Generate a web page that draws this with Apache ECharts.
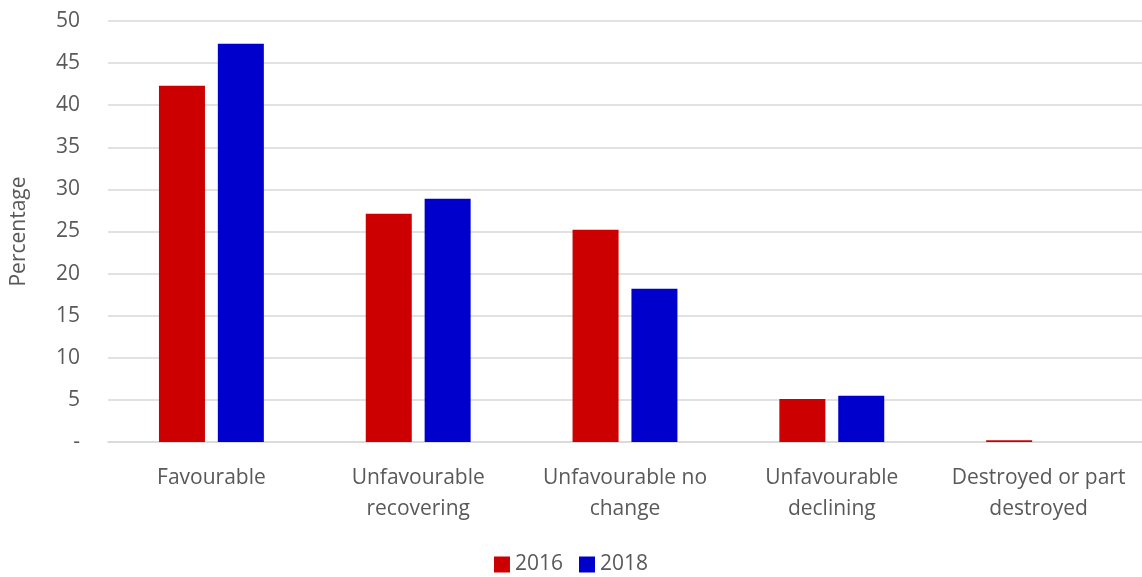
<!DOCTYPE html>
<html><head><meta charset="utf-8">
<script src="https://cdn.jsdelivr.net/npm/echarts@6/dist/echarts.min.js"></script>
<style>html,body{margin:0;padding:0;background:#fff}#c{width:1142px;height:577px}</style>
</head><body><div id="c"></div>
<script>
var categories = ['Favourable', 'Unfavourable\nrecovering', 'Unfavourable no\nchange', 'Unfavourable\ndeclining', 'Destroyed or part\ndestroyed'];
var series2016 = [42.3, 27.1, 25.2, 5.1, 0.2];
var series2018 = [47.3, 28.9, 18.2, 5.5, 0];
var seriesNames = ['2016', '2018'];
var yTicks = {min: 0, max: 50, interval: 5};

var chart = echarts.init(document.getElementById('c'));
var font = 'Open Sans';
chart.setOption({
  animation: false,
  grid: {left: 108, right: -4, top: 21, bottom: 135, containLabel: false},
  legend: {
    bottom: -3, left: 'center', itemWidth: 16, itemHeight: 16, itemGap: 16,
    icon: 'rect',
    textStyle: {fontFamily: font, fontSize: 21, color: '#595959'},
    data: seriesNames
  },
  xAxis: {
    type: 'category', data: categories,
    axisLine: {lineStyle: {color: '#d9d9d9', width: 1.5}},
    axisTick: {show: false},
    axisLabel: {fontFamily: font, fontSize: 21, color: '#595959', margin: 21, lineHeight: 31, interval: 0}
  },
  yAxis: {
    type: 'value', min: yTicks.min, max: yTicks.max, interval: yTicks.interval,
    name: 'Percentage', nameLocation: 'middle', nameGap: 78, nameRotate: 90,
    nameTextStyle: {fontFamily: font, fontSize: 21, color: '#595959'},
    axisLine: {show: false}, axisTick: {show: false},
    splitLine: {lineStyle: {color: '#d9d9d9', width: 1.5}},
    axisLabel: {fontFamily: font, fontSize: 21, color: '#595959', margin: 28,
      formatter: function (v) { return v === 0 ? '-' : v; }}
  },
  series: [
    {name: seriesNames[0], type: 'bar', data: series2016, barWidth: 46, barGap: '28%', itemStyle: {color: '#cc0000'}},
    {name: seriesNames[1], type: 'bar', data: series2018, barWidth: 46, barGap: '28%', itemStyle: {color: '#0000cc'}}
  ]
});
</script></body></html>
